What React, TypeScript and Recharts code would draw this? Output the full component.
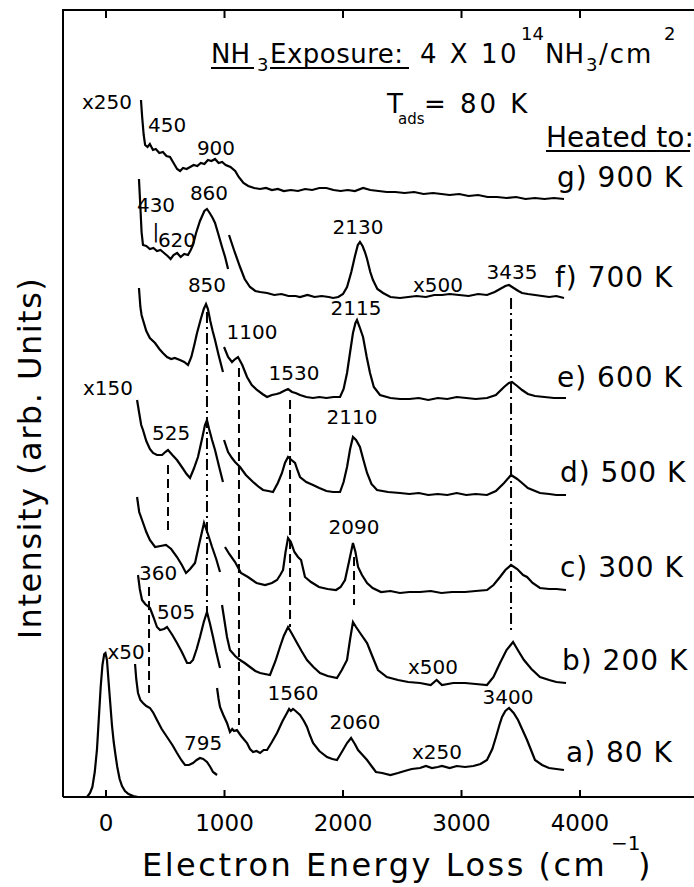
import React from 'react';
import { LineChart, Line, XAxis, YAxis, ReferenceDot } from 'recharts';

// x = energy loss (cm^-1), y = stacked intensity (arb., offset per spectrum)
const xTicks = [0, 1000, 2000, 3000, 4000];
const xDomain = [-363, 4962];
const yDomain = [0, 787];

const elastic80: number[][] = [[-160,0],[-135,4],[-115,10],[-95,25],[-76,48],[-60,80],[-45,110],[-30,132],[-15,143],[-5,144],[8,137],[20,118],[35,95],[50,72],[65,55],[80,42],[95,30],[115,18],[135,11],[160,6],[190,3],[230,1],[270,0]];
const a80Low: number[][] = [[245,133],[255,118],[270,104],[290,97],[312,94],[340,91],[371,89],[400,84],[430,77],[470,68],[515,60],[560,52],[599,44],[635,37],[667,32],[700,32],[734,34],[765,37],[793,39],[820,38],[852,35],[880,30],[903,25],[937,22]];
const a80High: number[][] = [[937,109],[950,98],[962,90],[990,82],[1021,74],[1046,65],[1065,68],[1080,66],[1105,67],[1140,61],[1190,54],[1215,48],[1241,45],[1270,46],[1300,44],[1330,47],[1359,47],[1400,55],[1443,64],[1490,76],[1527,84],[1545,88],[1560,86],[1578,88],[1600,86],[1637,82],[1670,76],[1696,70],[1720,62],[1747,54],[1800,46],[1865,40],[1910,38],[1949,37],[1990,45],[2034,54],[2068,59],[2100,53],[2127,47],[2165,42],[2203,37],[2240,31],[2278,25],[2330,24],[2400,22],[2464,24],[2520,26],[2580,28],[2650,29],[2700,31],[2750,29],[2800,30],[2835,31],[2900,29],[2960,31],[3030,30],[3100,31],[3160,33],[3215,37],[3260,48],[3291,60],[3320,72],[3342,80],[3370,86],[3401,89],[3440,84],[3477,77],[3515,67],[3553,57],[3590,46],[3620,37],[3680,32],[3738,29],[3800,28],[3865,27]];

const b200Low: number[][] = [[270,222],[285,208],[304,197],[330,193],[371,189],[400,180],[430,170],[456,167],[490,168],[515,170],[560,162],[599,154],[640,145],[684,134],[710,134],[734,137],[765,148],[793,160],[825,175],[852,185],[878,173],[903,160],[930,145],[962,129]];
const b200High: number[][] = [[979,192],[1000,176],[1021,160],[1046,147],[1090,141],[1131,137],[1170,134],[1215,130],[1260,126],[1300,124],[1340,123],[1384,122],[1430,136],[1468,150],[1500,161],[1536,170],[1570,163],[1612,154],[1650,146],[1696,137],[1750,130],[1806,124],[1870,121],[1949,119],[1990,127],[2034,137],[2060,158],[2084,175],[2110,170],[2150,163],[2203,154],[2250,140],[2295,127],[2370,120],[2464,117],[2550,115],[2650,114],[2740,112],[2790,117],[2835,112],[2930,114],[3030,114],[3120,113],[3215,112],[3270,120],[3325,134],[3380,147],[3435,155],[3480,146],[3527,137],[3590,128],[3662,120],[3740,117],[3800,115],[3882,114]];

const c300Low: number[][] = [[262,300],[280,285],[304,277],[340,265],[370,257],[414,250],[460,251],[506,252],[550,248],[599,240],[640,232],[675,224],[710,228],[751,234],[790,255],[827,274],[860,263],[895,250],[930,238],[962,225]];
const c300High: number[][] = [[1004,250],[1040,243],[1089,235],[1139,224],[1198,220],[1270,214],[1342,212],[1400,214],[1443,217],[1470,222],[1494,227],[1515,245],[1536,259],[1560,255],[1590,245],[1620,240],[1646,237],[1679,220],[1730,215],[1797,210],[1870,208],[1941,207],[1980,210],[2017,217],[2050,235],[2084,254],[2105,245],[2127,230],[2160,222],[2203,214],[2250,209],[2321,205],[2400,206],[2480,204],[2560,205],[2650,205],[2740,206],[2830,204],[2920,205],[3030,205],[3120,206],[3215,207],[3270,212],[3325,220],[3370,227],[3418,232],[3470,228],[3520,222],[3553,220],[3600,214],[3662,209],[3740,208],[3800,208],[3882,207]];

const d500Low: number[][] = [[262,397],[280,384],[297,372],[312,367],[340,356],[370,348],[397,344],[430,342],[473,342],[500,345],[523,347],[560,342],[599,337],[640,330],[680,323],[709,319],[740,328],[776,340],[810,358],[835,372],[852,377],[870,368],[895,357],[920,347],[955,330],[987,315]];
const d500High: number[][] = [[996,357],[1030,345],[1063,339],[1089,335],[1131,330],[1180,322],[1241,315],[1290,310],[1325,307],[1370,306],[1409,305],[1450,314],[1485,324],[1510,334],[1536,340],[1565,337],[1595,334],[1615,327],[1637,320],[1690,315],[1747,312],[1800,309],[1860,306],[1916,305],[1975,305],[2005,315],[2034,330],[2060,348],[2084,360],[2110,357],[2143,350],[2170,338],[2203,324],[2240,313],[2287,307],[2380,305],[2481,304],[2560,303],[2640,304],[2720,302],[2800,303],[2880,302],[2960,304],[3040,302],[3120,303],[3215,302],[3290,306],[3359,314],[3418,322],[3470,318],[3511,314],[3560,309],[3662,304],[3740,303],[3800,302],[3882,302]];

const e600Low: number[][] = [[278,509],[290,490],[300,482],[312,477],[340,466],[370,459],[414,454],[450,448],[480,444],[515,440],[550,438],[580,439],[624,437],[660,435],[692,432],[720,440],[745,452],[768,464],[800,478],[825,488],[844,493],[860,488],[880,476],[900,466],[920,457],[950,442],[987,425]];
const e600High: number[][] = [[996,450],[1030,440],[1063,435],[1090,438],[1114,440],[1150,432],[1190,420],[1230,412],[1274,407],[1320,403],[1359,400],[1400,402],[1440,403],[1468,404],[1500,406],[1536,408],[1570,405],[1600,404],[1637,402],[1690,400],[1747,399],[1800,400],[1860,399],[1920,400],[1975,400],[2005,408],[2034,424],[2060,445],[2084,464],[2105,474],[2118,477],[2140,470],[2169,460],[2200,440],[2228,424],[2260,410],[2312,402],[2400,399],[2481,398],[2560,398],[2640,399],[2720,397],[2800,399],[2880,398],[2960,400],[3040,399],[3120,398],[3215,399],[3290,402],[3359,410],[3400,414],[3426,415],[3470,411],[3511,407],[3560,403],[3620,401],[3700,400],[3780,399],[3882,399]];

const f700Low: number[][] = [[278,618],[290,590],[300,565],[312,552],[340,551],[370,548],[400,549],[430,546],[460,547],[490,544],[520,541],[545,538],[570,542],[600,544],[630,540],[660,543],[692,542],[715,547],[734,552],[760,564],[793,576],[830,586],[852,588],[875,584],[900,579],[920,574],[950,562],[979,550],[1005,540],[1030,528]];
const f700High: number[][] = [[1038,562],[1080,547],[1131,530],[1170,518],[1215,510],[1260,506],[1300,505],[1359,504],[1420,502],[1480,503],[1540,501],[1600,501],[1637,500],[1700,502],[1760,500],[1820,501],[1880,500],[1916,499],[1960,500],[2000,503],[2034,510],[2070,525],[2101,541],[2125,552],[2143,555],[2165,551],[2185,545],[2203,538],[2230,525],[2253,517],[2290,508],[2338,504],[2400,500],[2481,499],[2550,500],[2620,501],[2700,500],[2770,502],[2835,502],[2900,503],[2980,502],[3060,501],[3140,503],[3215,502],[3280,505],[3325,508],[3370,511],[3401,512],[3440,509],[3480,506],[3511,504],[3560,503],[3620,502],[3680,501],[3740,500],[3800,501],[3865,499]];

const g900: number[][] = [[295,697],[305,680],[318,662],[330,652],[350,650],[370,653],[396,647],[420,648],[450,644],[480,645],[510,641],[540,640],[570,634],[600,628],[625,626],[650,629],[680,628],[710,630],[740,632],[770,631],[800,634],[830,633],[860,637],[890,636],[920,638],[950,634],[980,635],[1010,632],[1050,630],[1090,626],[1120,620],[1160,614],[1200,611],[1250,609],[1300,608],[1350,609],[1400,607],[1450,608],[1500,606],[1560,607],[1620,606],[1680,608],[1740,607],[1800,609],[1860,609],[1920,607],[1980,606],[2040,607],[2100,606],[2170,609],[2230,607],[2300,606],[2370,605],[2440,605],[2520,604],[2600,605],[2680,603],[2760,604],[2830,603],[2900,602],[2980,603],[3060,601],[3140,602],[3220,600],[3300,600],[3380,599],[3460,600],[3540,598],[3620,599],[3700,598],[3780,599],[3865,598]];

// guide lines linking peaks across spectra
const dashed360: number[][] = [[363,210],[363,104]];
const dashed525: number[][] = [[523,332],[523,262]];
const dashDot850: number[][] = [[852,485],[852,185]];
const dashed1100: number[][] = [[1122,429],[1122,72]];
const dashed1530: number[][] = [[1553,397],[1553,170]];
const dashed2090: number[][] = [[2093,240],[2093,192]];
const dashDot3435: number[][] = [[3418,499],[3418,165]];

const peakLabels: [number, number, string][] = [
  [8, 695, 'x250'], [515, 672, '450'], [928, 649, '900'],
  [869, 604, '860'], [422, 592, '430'], [599, 557, '620'], [420, 566, '|'],
  [2127, 570, '2130'], [3426, 525, '3435'], [2802, 512, 'x500'],
  [852, 512, '850'], [2110, 489, '2115'], [1232, 465, '1100'], [1586, 424, '1530'],
  [17, 409, 'x150'], [2076, 380, '2110'], [549, 364, '525'],
  [2093, 270, '2090'],
  [439, 224, '360'], [591, 185, '505'], [169, 145, 'x50'], [2759, 130, 'x500'],
  [1578, 104, '1560'], [3392, 100, '3400'], [2101, 75, '2060'], [819, 54, '795'], [2793, 45, 'x250'],
];

const tempLabels: [number, number, string][] = [
  [3806, 620, 'g) 900 K'], [3789, 520, 'f) 700 K'], [3806, 420, 'e) 600 K'],
  [3831, 325, 'd) 500 K'], [3831, 230, 'c) 300 K'], [3848, 137, 'b) 200 K'], [3882, 45, 'a) 80 K'],
];

const spectra = [elastic80, a80Low, a80High, b200Low, b200High, c300Low, c300High, d500Low, d500High, e600Low, e600High, f700Low, f700High, g900];
const guides: [number[][], string][] = [
  [dashed360, '9 5'], [dashed525, '9 5'], [dashDot850, '11 4 2 4'], [dashed1100, '9 5'],
  [dashed1530, '9 5'], [dashed2090, '9 5'], [dashDot3435, '11 4 2 4'],
];

const toRows = (pts: number[][]) => pts.map(([x, y]) => ({ x, y }));
const FONT = 'DejaVu Sans, Verdana, sans-serif';

// plot box in page pixels (matches the chart margins below)
const plot = { left: 63, top: 10, right: 694, bottom: 797 };
const pxOf = (v: number) => plot.left + ((v - xDomain[0]) / (xDomain[1] - xDomain[0])) * (plot.right - plot.left);

const Note = (props: any) => {
  const { viewBox, text, size, anchor, spacing } = props;
  if (!viewBox) return null;
  return (
    <text x={viewBox.x + (viewBox.width || 0) / 2} y={viewBox.y + (viewBox.height || 0) / 2}
      textAnchor={anchor} dominantBaseline="central"
      fontFamily={FONT} fontSize={size} letterSpacing={spacing} fill="#000">{text}</text>
  );
};

const BottomTick = (props: any) => {
  const { x, y, payload } = props;
  return (
    <g>
      <line x1={x} x2={x} y1={y} y2={y - 7} stroke="#000" strokeWidth={2} />
      <text x={x} y={y + 34} textAnchor="middle" fontFamily={FONT} fontSize={23} fill="#000">{payload.value}</text>
    </g>
  );
};

export default function App() {
  return (
    <div style={{ position: 'absolute', left: 0, top: 0, width: 694, height: 887, background: '#fff', overflow: 'hidden' }}>
      <LineChart width={694} height={887} margin={{ top: plot.top, right: 0, left: plot.left, bottom: 50 }}>
        <XAxis type="number" dataKey="x" domain={xDomain} allowDataOverflow ticks={xTicks} interval={0}
          height={40} tickSize={0} tickMargin={0} tick={<BottomTick />} axisLine={{ stroke: '#000', strokeWidth: 2 }} />
        <YAxis type="number" domain={yDomain} allowDataOverflow hide />
        {spectra.map((s, i) => (
          <Line key={'s' + i} data={toRows(s)} dataKey="y" type="linear" dot={false} stroke="#000"
            strokeWidth={2.2} isAnimationActive={false} />
        ))}
        {guides.map(([g, dash], i) => (
          <Line key={'g' + i} data={toRows(g)} dataKey="y" type="linear" dot={false} stroke="#000"
            strokeWidth={2} strokeDasharray={dash} isAnimationActive={false} />
        ))}
        {peakLabels.map(([x, y, t], i) => (
          <ReferenceDot key={'p' + i} x={x} y={y} r={1} fill="none" stroke="none"
            label={<Note text={t} size={20} anchor="middle" spacing={0} />} />
        ))}
        {tempLabels.map(([x, y, t], i) => (
          <ReferenceDot key={'t' + i} x={x} y={y} r={1} fill="none" stroke="none"
            label={<Note text={t} size={28} anchor="start" spacing={1} />} />
        ))}
      </LineChart>
      <svg width={694} height={887} style={{ position: 'absolute', left: 0, top: 0, pointerEvents: 'none' }}
        fontFamily={FONT} fill="#000">
        <path d={`M${plot.left},${plot.bottom}V${plot.top}H${plot.right}`} fill="none" stroke="#000" strokeWidth={2} />
        {xTicks.map((t) => (
          <line key={t} x1={pxOf(t)} x2={pxOf(t)} y1={plot.top} y2={plot.top + 8} stroke="#000" strokeWidth={2} />
        ))}
        <text x={211} y={63} fontSize={26}>NH</text>
        <text x={257} y={71} fontSize={18}>3</text>
        <text x={270} y={63} fontSize={26} letterSpacing={0.5}>Exposure:</text>
        <line x1={211} x2={254} y1={68} y2={68} stroke="#000" strokeWidth={2} />
        <line x1={270} x2={409} y1={68} y2={68} stroke="#000" strokeWidth={2} />
        <text x={420} y={63} fontSize={26} letterSpacing={2.5}>4 X 10</text>
        <text x={521} y={40} fontSize={18}>14</text>
        <text x={545} y={63} fontSize={26}>NH</text>
        <text x={586} y={71} fontSize={18}>3</text>
        <text x={599} y={63} fontSize={26} letterSpacing={2}>/cm</text>
        <text x={664} y={40} fontSize={18}>2</text>
        <text x={387} y={113} fontSize={26}>T</text>
        <text x={398} y={124} fontSize={15}>ads</text>
        <text x={424} y={113} fontSize={26}>=</text>
        <text x={460} y={113} fontSize={26} letterSpacing={3}>80 K</text>
        <text x={546} y={147} fontSize={28}>Heated to:</text>
        <line x1={546} x2={690} y1={151} y2={151} stroke="#000" strokeWidth={2} />
        <text transform="translate(41,458) rotate(-90)" textAnchor="middle" fontSize={32} letterSpacing={1.5}>
          Intensity (arb. Units)
        </text>
        <text x={142} y={876} fontSize={32} letterSpacing={2.5}>Electron Energy Loss (cm</text>
        <text x={611} y={850} fontSize={20}>−1</text>
        <text x={638} y={876} fontSize={32}>)</text>
      </svg>
    </div>
  );
}
